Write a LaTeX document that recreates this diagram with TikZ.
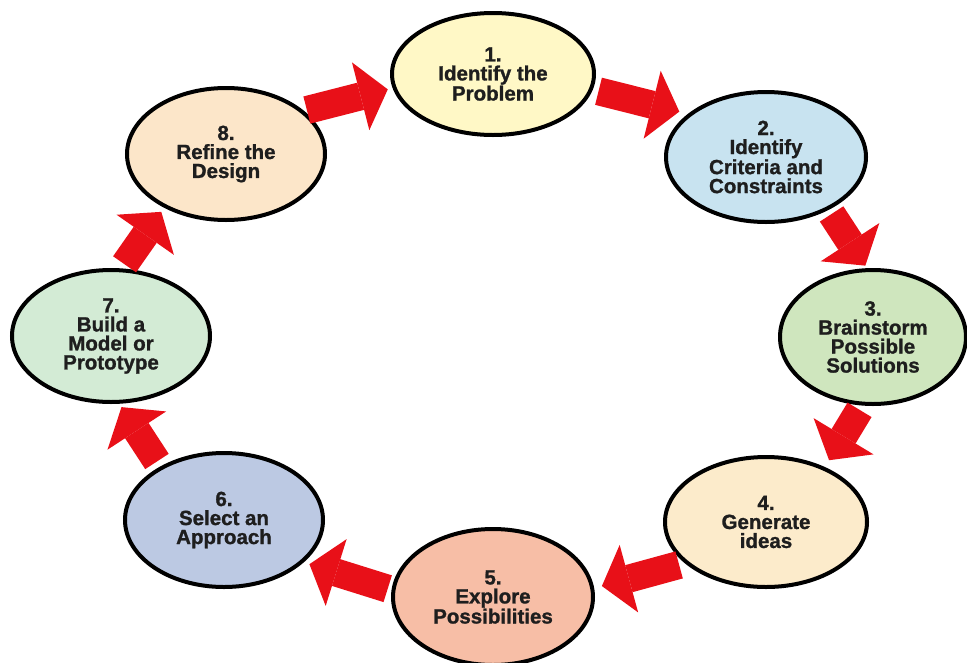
\documentclass[tikz,border=0pt]{standalone}
\usepackage{fontspec}
\setmainfont{Liberation Sans}[BoldFeatures={FakeBold=1.2}]
\usetikzlibrary{shapes.geometric,arrows.meta}
\definecolor{cA}{RGB}{255,248,198}
\definecolor{cB}{RGB}{200,227,240}
\definecolor{cC}{RGB}{207,230,190}
\definecolor{cD}{RGB}{252,235,203}
\definecolor{cE}{RGB}{247,190,166}
\definecolor{cF}{RGB}{188,201,227}
\definecolor{cG}{RGB}{211,235,213}
\definecolor{cH}{RGB}{252,230,201}
\definecolor{arrowred}{RGB}{232,16,24}
\definecolor{txt}{RGB}{30,30,30}
\begin{document}
\begin{tikzpicture}[x=1pt,y=-1pt,
  stage/.style={ellipse, draw=black, line width=4pt, inner sep=0pt, align=center,
    text=txt, font=\bfseries\fontsize{20.5}{19}\selectfont},
  flow/.style={draw=arrowred, line width=28pt,
    -{Triangle[length=28pt,width=70pt,line width=0pt]}}]
\fill[white] (0,0) rectangle (967,662);
\useasboundingbox (0,0) rectangle (967,662);
\node[stage, fill=cA, minimum width=202pt, minimum height=122pt] (n1) at (493,74) {1.\\Identify the\\Problem};
\node[stage, fill=cB, minimum width=200pt, minimum height=130pt] (n2) at (766,157) {2.\\Identify\\Criteria and\\Constraints};
\node[stage, fill=cC, minimum width=186pt, minimum height=134pt] (n3) at (873,337) {3.\\Brainstorm\\Possible\\Solutions};
\node[stage, fill=cD, minimum width=202pt, minimum height=130pt] (n4) at (766,522) {4.\\Generate\\ideas};
\node[stage, fill=cE, minimum width=200pt, minimum height=136pt] (n5) at (493,597) {5.\\Explore\\Possibilities};
\node[stage, fill=cF, minimum width=198pt, minimum height=134pt] (n6) at (224,520) {6.\\Select an\\Approach};
\node[stage, fill=cG, minimum width=198pt, minimum height=132pt] (n7) at (111,336) {7.\\Build a\\Model or\\Prototype};
\node[stage, fill=cH, minimum width=198pt, minimum height=132pt] (n8) at (226,154) {8.\\Refine the\\Design};
\draw[flow, shorten <=3pt, shorten >=5pt] (n8.29) -- (n1.188);
\draw[flow, shorten <=6pt, shorten >=9pt] (n1.351) -- (n2.151);
\draw[flow, shorten <=5pt, shorten >=3pt] (n2.320) -- (n3.95);
\draw[flow, shorten <=5pt, shorten >=8pt] (n3.261) -- (n4.43);
\draw[flow, shorten <=6pt, shorten >=8pt] (n4.207) -- (n5.5);
\draw[flow, shorten <=4pt, shorten >=6pt] (n5.176) -- (n6.332);
\draw[flow, shorten <=6pt, shorten >=4pt] (n6.140) -- (n7.277);
\draw[flow, shorten <=5pt, shorten >=5pt] (n7.81) -- (n8.221);
\end{tikzpicture}
\end{document}
